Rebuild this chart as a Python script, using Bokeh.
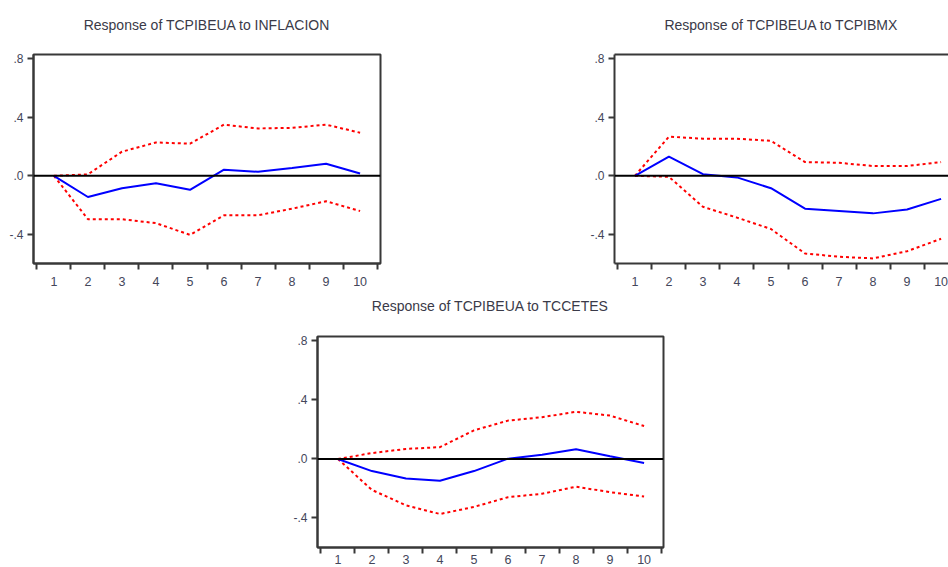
from bokeh.plotting import figure
from bokeh.layouts import column, row
from bokeh.models import FixedTicker, Span, Range1d, LinearAxis
from bokeh.embed import file_html
from bokeh.resources import INLINE

# ---- data ----
periods = [1, 2, 3, 4, 5, 6, 7, 8, 9, 10]
x_tick_labels = ["1", "2", "3", "4", "5", "6", "7", "8", "9", "10"]
y_ticks = [-0.4, 0.0, 0.4, 0.8]
y_tick_labels = ["-.4", ".0", ".4", ".8"]

inf_resp = [0.0, -0.145, -0.085, -0.051, -0.096, 0.042, 0.027, 0.054, 0.083, 0.016]
inf_upper = [0.0, 0.010, 0.165, 0.228, 0.220, 0.350, 0.324, 0.328, 0.350, 0.295]
inf_lower = [0.0, -0.297, -0.297, -0.324, -0.404, -0.270, -0.270, -0.225, -0.174, -0.241]

mx_resp = [0.0, 0.132, 0.011, -0.011, -0.085, -0.225, -0.241, -0.257, -0.230, -0.158]
mx_upper = [0.0, 0.268, 0.254, 0.254, 0.239, 0.094, 0.089, 0.067, 0.067, 0.094]
mx_lower = [0.0, -0.007, -0.212, -0.286, -0.364, -0.531, -0.554, -0.565, -0.516, -0.431]

cetes_resp = [0.0, -0.082, -0.133, -0.148, -0.082, 0.002, 0.029, 0.066, 0.018, -0.027]
cetes_upper = [0.0, 0.040, 0.068, 0.080, 0.194, 0.260, 0.283, 0.320, 0.294, 0.223]
cetes_lower = [0.0, -0.210, -0.314, -0.373, -0.325, -0.259, -0.236, -0.188, -0.225, -0.254]

titles = ["Response of TCPIBEUA to INFLACION",
          "Response of TCPIBEUA to TCPIBMX",
          "Response of TCPIBEUA to TCCETES"]

FONT = "Liberation Sans"
FRAME_COL = "#383838"
TEXT_COL = "#44465a"
TITLE_COL = "#3a3a48"
Y_MIN, Y_MAX = -0.6, 0.83
X_MIN = 0.4
PX_PER_X = 347 / 10.2


def make_panel(title, resp, upper, lower, width, height, mb_left, mb_right,
               mb_top, mb_bottom, frame_w, outline=True, title_offset=0,
               title_gap=20, x_standoff=7):
    x_max = X_MIN + frame_w / PX_PER_X
    p = figure(width=width, height=height, output_backend="svg",
               toolbar_location=None, x_range=Range1d(X_MIN, x_max),
               y_range=Range1d(Y_MIN, Y_MAX),
               min_border_left=mb_left, min_border_right=mb_right,
               min_border_top=mb_top, min_border_bottom=mb_bottom,
               x_axis_type=None, y_axis_type=None)
    p.background_fill_color = "white"
    p.border_fill_color = "white"
    p.grid.visible = False
    if outline:
        p.outline_line_color = FRAME_COL
        p.outline_line_width = 2
    else:
        p.outline_line_color = None
    # top edge (no visible ticks / labels); its tick room separates title from frame
    top = LinearAxis(ticker=FixedTicker(ticks=[periods[0]], minor_ticks=[]),
                     axis_line_color=None if outline else FRAME_COL,
                     axis_line_width=2, major_tick_out=title_gap, major_tick_in=0,
                     major_tick_line_color=None, minor_tick_line_color=None,
                     minor_tick_out=0, minor_tick_in=0,
                     major_label_overrides={periods[0]: ""},
                     major_label_standoff=0)
    p.add_layout(top, "above")

    # x axis: labels at periods, boundary ticks between them
    xt = FixedTicker(ticks=periods, minor_ticks=[k + 0.5 for k in [0] + periods])
    xa = LinearAxis(ticker=xt)
    xa.major_label_overrides = {k: lab for k, lab in zip(periods, x_tick_labels)}
    xa.axis_line_color = FRAME_COL
    xa.axis_line_width = 2
    xa.major_tick_out = 0
    xa.major_tick_in = 0
    xa.minor_tick_out = 6
    xa.minor_tick_in = 0
    xa.minor_tick_line_color = FRAME_COL
    xa.minor_tick_line_width = 2
    xa.major_label_standoff = x_standoff
    xa.major_label_text_font = FONT
    xa.major_label_text_font_size = "12.5px"
    xa.major_label_text_color = TEXT_COL
    p.add_layout(xa, "below")

    ya = LinearAxis(ticker=FixedTicker(ticks=y_ticks, minor_ticks=[]))
    ya.major_label_overrides = {t: lab for t, lab in zip(y_ticks, y_tick_labels)}
    ya.axis_line_color = FRAME_COL
    ya.axis_line_width = 2
    ya.major_tick_out = 6
    ya.major_tick_in = 0
    ya.major_tick_line_color = FRAME_COL
    ya.major_tick_line_width = 2
    ya.minor_tick_out = 0
    ya.minor_tick_in = 0
    ya.major_label_standoff = 4
    ya.major_label_text_font = FONT
    ya.major_label_text_font_size = "12px"
    ya.major_label_text_color = TEXT_COL
    p.add_layout(ya, "left")

    p.add_layout(Span(location=0, dimension="width", line_color="black",
                      line_width=2))

    p.line(periods, upper, line_color="#ff0000", line_width=2, line_dash="3 3")
    p.line(periods, lower, line_color="#ff0000", line_width=2, line_dash="3 3")
    p.line(periods, resp, line_color="#0000ff", line_width=2)

    p.title.text = title
    p.title.align = "center"
    p.title.text_font = FONT
    p.title.text_font_style = "normal"
    p.title.text_font_size = "14px"
    p.title.text_color = TITLE_COL
    p.title.standoff = 4
    p.title.offset = title_offset
    return p


p1 = make_panel(titles[0], inf_resp, inf_upper, inf_lower, 400, 290,
                33, 20, 54, 27, 347, title_gap=20)
p2 = make_panel(titles[1], mx_resp, mx_upper, mx_lower, 548, 290,
                214, 0, 54, 27, 334, outline=False, title_offset=6, title_gap=20)
p3 = make_panel(titles[2], cetes_resp, cetes_upper, cetes_lower, 948, 277,
                317, 285, 46, 20, 346, x_standoff=1, title_gap=21)

layout = column(row(p1, p2), p3)
open("out.html", "w").write(file_html(layout, INLINE))
